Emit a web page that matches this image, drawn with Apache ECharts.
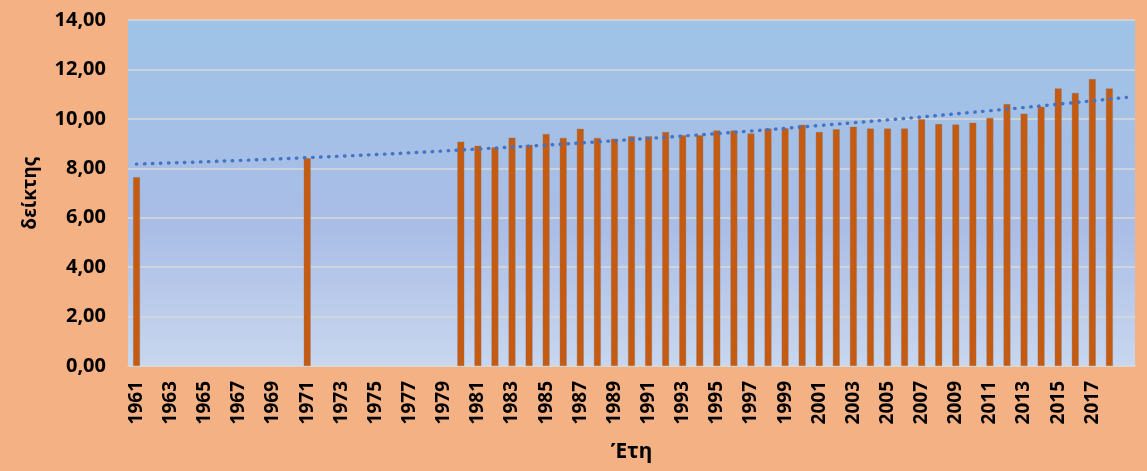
<!DOCTYPE html>
<html>
<head>
<meta charset="utf-8">
<script src="https://cdn.jsdelivr.net/npm/echarts@6/dist/echarts.min.js"></script>
<style>
html,body{margin:0;padding:0;background:#F4B183;}
#c{width:1147px;height:471px;}
</style>
</head>
<body>
<div id="c"></div>
<script>
// Categories (last slot is the unlabeled forecast period of the trendline)
const years = ['1961','1962','1963','1964','1965','1966','1967','1968','1969','1970',
  '1971','1972','1973','1974','1975','1976','1977','1978','1979','1980',
  '1981','1982','1983','1984','1985','1986','1987','1988','1989','1990',
  '1991','1992','1993','1994','1995','1996','1997','1998','1999','2000',
  '2001','2002','2003','2004','2005','2006','2007','2008','2009','2010',
  '2011','2012','2013','2014','2015','2016','2017','2018',''];

// Index values (δείκτης) per year; null = no data
const values = [7.64, null, null, null, null, null, null, null, null, null,
  8.41, null, null, null, null, null, null, null, null, 9.08,
  8.91, 8.85, 9.24, 8.95, 9.39, 9.23, 9.60, 9.23, 9.20, 9.30,
  9.30, 9.47, 9.34, 9.34, 9.53, 9.53, 9.41, 9.61, 9.62, 9.76,
  9.47, 9.58, 9.68, 9.61, 9.61, 9.61, 9.99, 9.79, 9.77, 9.84,
  10.04, 10.60, 10.21, 10.49, 11.23, 11.05, 11.61, 11.23, null];

// Trendline: [category position, value]
const trendPos = [0, 10, 20, 30, 40, 50, 58];
const trendVal = [8.17, 8.43, 8.78, 9.21, 9.73, 10.33, 10.87];

const yTicks = {min: 0, max: 14, interval: 2};

const chart = echarts.init(document.getElementById('c'));
const font = '"Noto Sans", "Open Sans", sans-serif';
chart.setOption({
  backgroundColor: '#F4B183',
  animation: false,
  textStyle: {fontFamily: font},
  grid: {
    left: 128, right: 12, top: 20, bottom: 105,
    outerBoundsMode: 'none',
    containLabel: false,
    show: true, borderWidth: 0,
    backgroundColor: new echarts.graphic.LinearGradient(0, 0, 0, 1, [
      {offset: 0, color: '#9DC3E6'},
      {offset: 0.6, color: '#AABDE6'},
      {offset: 1, color: '#C8D7EF'}
    ])
  },
  xAxis: [{
    type: 'category',
    data: years,
    boundaryGap: true,
    name: 'Έτη',
    nameLocation: 'middle',
    nameGap: 76,
    nameTextStyle: {fontSize: 21, fontWeight: 'bold', color: '#000', fontFamily: font},
    axisLine: {lineStyle: {color: '#D9D9D9', width: 1.5}},
    axisTick: {show: false},
    axisLabel: {
      interval: 1, rotate: 90, fontSize: 19, fontWeight: 'bold',
      color: '#000', margin: 15, fontFamily: font
    }
  }, {
    type: 'value',
    min: -0.5, max: years.length - 0.5,
    show: false
  }],
  yAxis: {
    type: 'value',
    min: yTicks.min, max: yTicks.max, interval: yTicks.interval,
    name: 'δείκτης',
    nameLocation: 'middle',
    nameRotate: 90,
    nameGap: 88,
    nameTextStyle: {fontSize: 19, fontWeight: 'bold', color: '#000', fontFamily: font},
    axisLine: {show: false},
    axisTick: {show: false},
    splitLine: {lineStyle: {color: '#D9D9D9', width: 1.5}},
    axisLabel: {
      fontSize: 20, fontWeight: 'bold', color: '#000', margin: 22, fontFamily: font,
      formatter: v => v.toFixed(2).replace('.', ',')
    }
  },
  series: [{
    type: 'bar',
    data: values,
    barWidth: 7,
    itemStyle: {color: '#C55A11', borderColor: 'rgba(140,120,110,0.6)', borderWidth: 0.6}
  }, {
    type: 'line',
    xAxisIndex: 1,
    data: trendPos.map((p, i) => [p, trendVal[i]]),
    smooth: true,
    showSymbol: false,
    lineStyle: {color: '#4472C4', width: 3.4, type: [0.5, 7.5], cap: 'round'},
    z: 5
  }]
});
</script>
</body>
</html>
